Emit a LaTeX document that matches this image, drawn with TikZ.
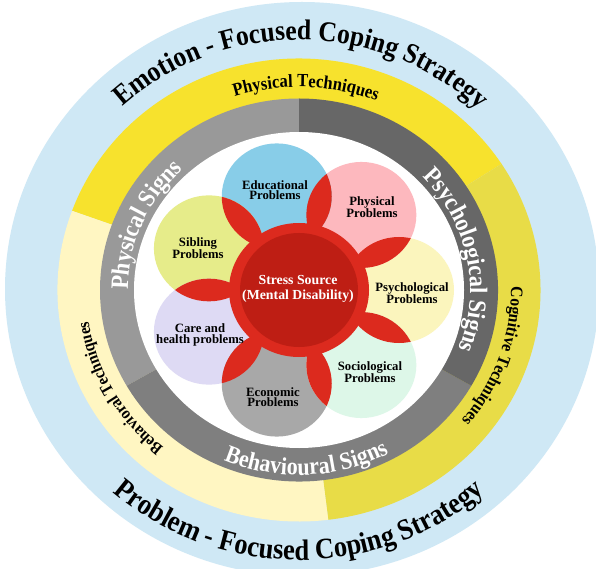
\documentclass[tikz,border=0pt]{standalone}
\usepackage{fontspec}
\setmainfont{Liberation Serif}
\newfontfamily\ringfont[FakeStretch=0.9]{Liberation Serif}
\usetikzlibrary{decorations.text,calc}
\definecolor{cblue}{HTML}{CFE8F5}
\definecolor{ybright}{HTML}{F7E22D}
\definecolor{ypale}{HTML}{FFF6C2}
\definecolor{ydark}{HTML}{E8DC47}
\definecolor{glight}{HTML}{999999}
\definecolor{gmid}{HTML}{7F7F7F}
\definecolor{gdark}{HTML}{676767}
\definecolor{cpsy}{HTML}{FBF5BD}
\definecolor{cphy}{HTML}{FDB8BE}
\definecolor{cedu}{HTML}{88CDE8}
\definecolor{csib}{HTML}{E6EC8A}
\definecolor{ccare}{HTML}{DEDAF4}
\definecolor{ceco}{HTML}{A8A8A8}
\definecolor{csoc}{HTML}{DDF7E8}
\definecolor{cred}{HTML}{DC2A1E}
\definecolor{cdarkred}{HTML}{BE1E14}
\tikzset{
  lbl/.style={font=\bfseries\fontsize{12.7}{10.5}\selectfont, align=center, text=black, inner sep=0pt},
  srclbl/.style={font=\bfseries\fontsize{13.8}{15}\selectfont, align=center, text=white, inner sep=0pt},
  petal/.style={x radius=55pt, y radius=53pt}
}
\begin{document}
\begin{tikzpicture}[x=1pt,y=1pt]
\useasboundingbox (0,0) rectangle (596,568);
\fill[white] (0,0) rectangle (596,568);
\coordinate (C) at (299,278);
\coordinate (B) at (302,279);
% outer blue
\fill[cblue] (B) ellipse[x radius=297pt, y radius=287pt];
% yellow ring
\fill[ybright] (C) -- ++(33:241.5pt and 231.5pt) arc[start angle=33, end angle=160, x radius=241.5pt, y radius=231.5pt] -- cycle;
\fill[ypale] (C) -- ++(160:241.5pt and 231.5pt) arc[start angle=160, end angle=277, x radius=241.5pt, y radius=231.5pt] -- cycle;
\fill[ydark] (C) -- ++(277:241.5pt and 231.5pt) arc[start angle=277, end angle=393, x radius=241.5pt, y radius=231.5pt] -- cycle;
% gray ring
\fill[glight] (C) -- ++(90:199pt and 191.5pt) arc[start angle=90, end angle=210, x radius=199pt, y radius=191.5pt] -- cycle;
\fill[gmid] (C) -- ++(210:199pt and 191.5pt) arc[start angle=210, end angle=330, x radius=199pt, y radius=191.5pt] -- cycle;
\fill[gdark] (C) -- ++(330:199pt and 191.5pt) arc[start angle=330, end angle=450, x radius=199pt, y radius=191.5pt] -- cycle;
% white inner
\fill[white] (C) ellipse[x radius=165pt, y radius=158pt];
% petals
\begin{scope}[shift={(C)}]
\foreach \i/\col in {0/cpsy,1/cphy,2/cedu,3/csib,4/ccare,5/ceco,6/csoc}{
  \fill[\col] ({\i*360/7}:100pt and 96pt) ellipse[petal];
}
\foreach \i in {0,...,6}{
  \pgfmathsetmacro\j{\i+1}
  \begin{scope}
    \clip ({\i*360/7}:100pt and 96pt) ellipse[petal];
    \fill[cred] ({\j*360/7}:100pt and 96pt) ellipse[petal];
  \end{scope}
}
\end{scope}
\fill[cred] (C) ellipse[x radius=70pt, y radius=67pt];
\fill[cdarkred] (C) ellipse[x radius=59pt, y radius=57pt];
% labels
\node[srclbl] (src) at (298,279) {Stress Source\\(Mental Disability)};
\node[lbl] (edu) at (275,378) {Educational\\Problems};
\node[lbl] (phy) at (372,361) {Physical\\Problems};
\node[lbl] (sib) at (198,320) {Sibling\\Problems};
\node[lbl] (psy) at (412,275) {Psychological\\Problems};
\node[lbl] (care) at (200,233) {Care and\\health problems};
\node[lbl] (eco) at (273,171) {Economic\\Problems};
\node[lbl] (soc) at (370,196) {Sociological\\Problems};
% ring texts
\path[decorate, decoration={text along path, text align=center, text={|\ringfont\bfseries\fontsize{28.5}{28.5}\selectfont|Emotion - Focused Coping Strategy}}]
  (C) ++(179:260pt and 250pt) arc[start angle=179, end angle=0, x radius=260pt, y radius=250pt];
\path[decorate, decoration={text along path, text align=center, text={|\ringfont\bfseries\fontsize{29.5}{29.5}\selectfont|Problem - Focused Coping Strategy}}]
  (C) ++(180:281pt and 270pt) arc[start angle=180, end angle=360, x radius=281pt, y radius=270pt];
\path[decorate, decoration={text along path, text align=center, text={|\ringfont\bfseries\fontsize{18.5}{18.5}\selectfont|Physical Techniques}}]
  (C) ++(178:212pt and 203pt) arc[start angle=178, end angle=-2, x radius=212pt, y radius=203pt];
\path[decorate, decoration={text along path, text align=center, text={|\ringfont\bfseries\fontsize{17.5}{17.5}\selectfont|Cognitive Techniques}}]
  (C) ++(44:212pt and 203pt) arc[start angle=44, end angle=-82, x radius=212pt, y radius=203pt];
\path[decorate, decoration={text along path, text align=center, text={|\ringfont\bfseries\fontsize{17}{17}\selectfont|Behavioral Techniques}}]
  (C) ++(272:213pt and 204pt) arc[start angle=272, end angle=146, x radius=213pt, y radius=204pt];
\path[decorate, decoration={text along path, text align=center, text color=white, text={|\ringfont\bfseries\fontsize{25}{25}\selectfont|Physical Signs}}]
  (C) ++(240:171pt and 164pt) arc[start angle=240, end angle=74, x radius=171pt, y radius=164pt];
\path[decorate, decoration={text along path, text align=center, text color=white, text={|\ringfont\bfseries\fontsize{25}{25}\selectfont|Psychological Signs}}]
  (C) ++(100:171pt and 164pt) arc[start angle=100, end angle=-78, x radius=171pt, y radius=164pt];
\path[decorate, decoration={text along path, text align=center, text color=white, text={|\ringfont\bfseries\fontsize{24.5}{24.5}\selectfont|Behavioural Signs}}]
  (C) ++(190:192pt and 185pt) arc[start angle=190, end angle=355, x radius=192pt, y radius=185pt];
\end{tikzpicture}
\end{document}
